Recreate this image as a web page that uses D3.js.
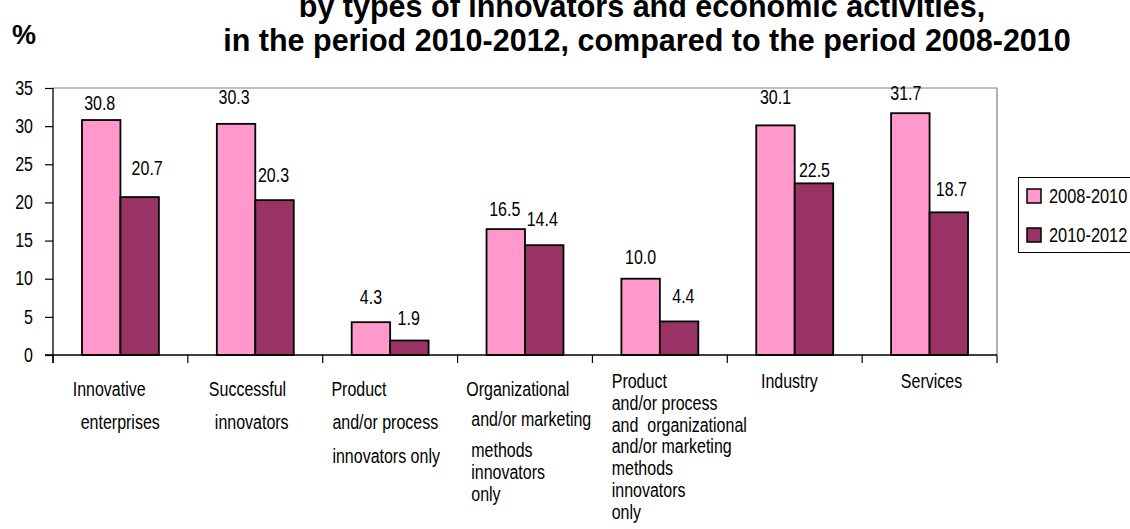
<!DOCTYPE html>
<html>
<head>
<meta charset="utf-8">
<script src="https://cdn.jsdelivr.net/npm/d3@7"></script>
<style>
  html, body { margin: 0; padding: 0; background: #fff; }
  svg { display: block; }
  .lbl { font-family: "Liberation Sans", Arial, sans-serif; font-size: 19.5px; fill: #000; white-space: pre; }
  .ttl { font-family: "Liberation Sans", Arial, sans-serif; font-weight: bold; fill: #000; }
</style>
</head>
<body>
<svg id="chart" width="1130" height="529"></svg>
<script>
// ---- data ----
const categories = [
  "Innovative enterprises",
  "Successful innovators",
  "Product and/or process innovators only",
  "Organizational and/or marketing methods innovators only",
  "Product and/or process and organizational and/or marketing methods innovators only",
  "Industry",
  "Services"
];
const categoryLines = [
  ["Innovative", "enterprises"],
  ["Successful", "innovators"],
  ["Product", "and/or process", "innovators only"],
  ["Organizational", "and/or marketing", "methods", "innovators", "only"],
  ["Product", "and/or process", "and  organizational", "and/or marketing", "methods", "innovators", "only"],
  ["Industry"],
  ["Services"]
];
const seriesNames = ["2008-2010", "2010-2012"];
const values2008_2010 = [30.8, 30.3, 4.3, 16.5, 10.0, 30.1, 31.7];
const values2010_2012 = [20.7, 20.3, 1.9, 14.4, 4.4, 22.5, 18.7];
const yTicks = [0, 5, 10, 15, 20, 25, 30, 35];
const titleLines = [
  "by types of innovators and economic activities,",
  "in the period 2010-2012, compared to the period 2008-2010"
];

// ---- layout ----
const colors = ["#FF99CC", "#993366"];
const plot = { left: 53, right: 997, top: 88, bottom: 355 };
const K = 0.82; // horizontal squeeze giving the narrow label face

// hand placement of the value labels (dx, gap between baseline and bar top)
const labelPlace = [
  [[-1.5, 10.5], [-2, 20], [0, 18.4], [-1, 13.3], [0, 14.3], [0, 21], [-4.5, 13]],
  [[7.5, 22], [-1, 18], [-0.7, 16], [-2, 19.3], [4.3, 18.4], [0.5, 6], [2.5, 16]]
];
// category label placement: [first-line dx, other-lines dx, baselines]
const catPlace = [
  [19.7, 27.7, [396, 429]],
  [21, 27, [396, 429]],
  [8.7, 9.7, [396, 429, 463]],
  [8.7, 13.7, [396, 426, 457, 479, 501]],
  [19.3, 19.3, [388, 410, 431.6, 453.4, 475.2, 497, 518.8]],
  [33.7, 33.7, [388]],
  [38.7, 38.7, [388]]
];

const svg = d3.select("#chart");

// place a narrow label at (px, py)
function narrowAt(sel, px, py) {
  sel.attr("x", 0).attr("y", 0)
    .attr("transform", (d, i) => `translate(${px(d, i)},${py(d, i)}) scale(${K},1)`);
}

const x = d3.scaleBand().domain(categories).range([plot.left, plot.right]).padding(0);
const xs = d3.scaleBand().domain(seriesNames).range([0, x.bandwidth()])
  .paddingInner(0).paddingOuter(0.753);
const y = d3.scaleLinear().domain([0, 35]).range([plot.bottom, plot.top]);

// plot frame (top and right in grey)
svg.append("path")
  .attr("d", `M${plot.left},${plot.top}H${plot.right}V${plot.bottom}`)
  .attr("fill", "none").attr("stroke", "#808080").attr("stroke-width", 1.2);

// bars
const series = [values2008_2010, values2010_2012];
series.forEach((vals, si) => {
  svg.append("g").selectAll("rect")
    .data(vals)
    .join("rect")
    .attr("x", (d, i) => x(categories[i]) + xs(seriesNames[si]))
    .attr("y", d => y(d))
    .attr("width", xs.bandwidth())
    .attr("height", d => y(0) - y(d))
    .attr("fill", colors[si])
    .attr("stroke", "#000")
    .attr("stroke-width", 1.8);
});

// value labels
series.forEach((vals, si) => {
  const t = svg.append("g").selectAll("text")
    .data(vals)
    .join("text")
    .attr("class", "lbl")
    .attr("text-anchor", "middle")
    .text(d => d.toFixed(1));
  narrowAt(t,
    (d, i) => x(categories[i]) + xs(seriesNames[si]) + xs.bandwidth() / 2 + labelPlace[si][i][0],
    (d, i) => y(d) - labelPlace[si][i][1]);
});

// y axis
const yAxis = d3.axisLeft(y).tickValues(yTicks).tickSize(8).tickPadding(12).tickFormat(d3.format("d"));
const gy = svg.append("g").attr("transform", `translate(${plot.left},0)`).call(yAxis);
gy.select(".domain").remove();
gy.selectAll(".tick line").attr("stroke", "#000").attr("stroke-width", 1.2);
gy.selectAll(".tick text")
  .attr("class", "lbl").attr("font-size", null).attr("font-family", null)
  .attr("x", -20 / K).attr("transform", `scale(${K},1)`);
svg.append("line")
  .attr("x1", plot.left).attr("x2", plot.left)
  .attr("y1", plot.top).attr("y2", plot.bottom + 8)
  .attr("stroke", "#000").attr("stroke-width", 1.3);

// x axis line with category boundary ticks
svg.append("line")
  .attr("x1", plot.left - 8).attr("x2", plot.right)
  .attr("y1", plot.bottom).attr("y2", plot.bottom)
  .attr("stroke", "#000").attr("stroke-width", 1.3);
const bounds = categories.map(c => x(c)).concat([plot.right]);
svg.append("g").selectAll("line")
  .data(bounds)
  .join("line")
  .attr("x1", d => d).attr("x2", d => d)
  .attr("y1", plot.bottom).attr("y2", plot.bottom + 8)
  .attr("stroke", "#000").attr("stroke-width", 1.2);

// category labels
svg.append("g").selectAll("text")
  .data(categories)
  .join("text")
  .attr("class", "lbl")
  .attr("transform", c => `translate(${x(c)},0) scale(${K},1)`)
  .each(function (c, i) {
    const t = d3.select(this);
    const [dx0, dx1, bases] = catPlace[i];
    categoryLines[i].forEach((line, li) => {
      t.append("tspan")
        .attr("x", (li === 0 ? dx0 : dx1) / K)
        .attr("y", bases[li])
        .text(line);
    });
  });

// legend
const lg = svg.append("g");
lg.append("rect")
  .attr("x", 1018.5).attr("y", 177.5).attr("width", 130).attr("height", 75)
  .attr("fill", "#fff").attr("stroke", "#000").attr("stroke-width", 1);
lg.selectAll("rect.key")
  .data(seriesNames)
  .join("rect")
  .attr("class", "key")
  .attr("x", 1027).attr("y", (d, i) => 189 + i * 39).attr("width", 14).attr("height", 14)
  .attr("fill", (d, i) => colors[i]).attr("stroke", "#000").attr("stroke-width", 1.5);
const lt = lg.selectAll("text")
  .data(seriesNames)
  .join("text")
  .attr("class", "lbl")
  .style("font-size", "20px")
  .text(d => d);
narrowAt(lt, () => 1049, (d, i) => 203 + i * 39);

// title and unit
svg.append("text").attr("class", "ttl")
  .attr("x", 12).attr("y", 44).attr("font-size", 27)
  .text("%");
svg.append("text").attr("class", "ttl")
  .attr("x", 642).attr("y", 17).attr("font-size", 30.5).attr("text-anchor", "middle")
  .text(titleLines[0]);
svg.append("text").attr("class", "ttl")
  .attr("x", 647).attr("y", 51).attr("font-size", 30.5).attr("text-anchor", "middle")
  .text(titleLines[1]);
</script>
</body>
</html>
